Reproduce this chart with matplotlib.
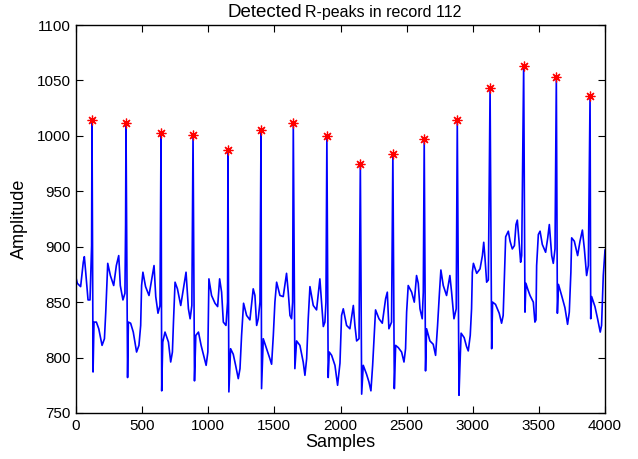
import matplotlib
matplotlib.use("Agg")
import matplotlib.pyplot as plt
import numpy as np

# ECG trace, record 112 (key points)
samples = [0, 10, 35, 55, 63, 72, 91, 106, 118, 121, 129, 136, 154, 172, 197, 215, 225, 235, 240, 260,
           285, 305, 323, 335, 355, 370, 375, 378, 390, 396, 413, 433, 458, 476, 489, 496, 506, 526, 552,
           577, 590, 603, 620, 635, 643, 648, 656, 673, 699, 716, 729, 737, 749, 767, 792, 820, 832, 850,
           863, 876, 885, 896, 906, 926, 946, 971, 984, 997, 1005, 1025, 1051, 1071, 1086, 1101, 1114,
           1134, 1146, 1149, 1156, 1169, 1189, 1207, 1227, 1240, 1252, 1267, 1290, 1315, 1340, 1353, 1366,
           1378, 1391, 1399, 1403, 1416, 1441, 1466, 1479, 1492, 1504, 1517, 1542, 1567, 1592, 1605, 1618,
           1630, 1638, 1643, 1655, 1668, 1693, 1718, 1731, 1744, 1756, 1769, 1794, 1819, 1844, 1857, 1870,
           1882, 1890, 1897, 1907, 1915, 1933, 1958, 1978, 1996, 2008, 2021, 2046, 2071, 2097, 2109, 2122,
           2140, 2150, 2160, 2172, 2197, 2215, 2230, 2243, 2255, 2265, 2291, 2316, 2341, 2354, 2366, 2386,
           2396, 2407, 2417, 2437, 2462, 2480, 2492, 2500, 2512, 2538, 2558, 2575, 2588, 2601, 2618, 2626,
           2633, 2643, 2651, 2676, 2701, 2719, 2734, 2747, 2759, 2777, 2802, 2827, 2840, 2858, 2875, 2883,
           2896, 2903, 2912, 2935, 2953, 2966, 2981, 2991, 2997, 3005, 3030, 3055, 3073, 3083, 3093, 3105,
           3118, 3131, 3143, 3150, 3172, 3200, 3218, 3230, 3239, 3249, 3269, 3282, 3299, 3315, 3327, 3337,
           3350, 3362, 3370, 3385, 3395, 3402, 3415, 3433, 3458, 3470, 3478, 3483, 3496, 3509, 3526, 3551,
           3567, 3579, 3597, 3609, 3622, 3632, 3640, 3648, 3672, 3697, 3717, 3730, 3742, 3748, 3768, 3793,
           3811, 3829, 3844, 3861, 3874, 3887, 3892, 3899, 3924, 3944, 3964, 3974, 3987, 4000]
amplitude = [872, 867, 864, 886, 891, 879, 852, 852, 901, 1014, 787, 832, 832, 826, 811, 817, 841, 871, 885, 874,
             865, 883, 892, 865, 852, 858, 920, 1012, 782, 832, 831, 823, 805, 811, 829, 865, 877, 864, 856,
             874, 883, 855, 840, 847, 1003, 770, 814, 823, 814, 796, 805, 832, 868, 862, 847, 868, 877, 844,
             835, 847, 1001, 779, 820, 823, 811, 799, 793, 805, 871, 856, 849, 846, 871, 859, 832,
             829, 850, 987, 769, 808, 803, 793, 781, 790, 820, 849, 838, 834, 862, 856, 829,
             835, 850, 1005, 772, 817, 808, 799, 794, 820, 850, 868, 856, 855, 876, 859, 838,
             835, 850, 1012, 790, 815, 811, 796, 784, 799, 835, 864, 847, 843, 871, 850, 828,
             832, 850, 1000, 782, 805, 802, 793, 775, 795, 838, 844, 829, 826, 847, 829, 815,
             817, 975, 767, 793, 785, 778, 770, 793, 820, 843, 835, 831, 853, 859, 826, 832,
             984, 772, 811, 809, 805, 796, 808, 841, 865, 859, 850, 874, 867, 844, 835, 859,
             997, 788, 826, 815, 812, 802, 829, 856, 879, 865, 856, 874, 859, 835, 844, 1014,
             766, 792, 822, 818, 810, 806, 820, 844, 877, 885, 876, 880, 892, 904, 889, 868,
             870, 1043, 808, 850, 848, 840, 831, 838, 871, 909, 914, 905, 898, 901, 920, 924,
             905, 886, 892, 1063, 841, 867, 862, 856, 850, 832, 834, 883, 911, 914, 902, 895,
             908, 920, 892, 885, 898, 1053, 840, 866, 856, 845, 830, 841, 877, 908, 905, 892,
             905, 915, 898, 874, 883, 1036, 835, 855, 846, 835, 823, 829, 874, 897]

# detected R-peaks
r_locs = [121, 378, 643, 885, 1149, 1399, 1643, 1897, 2150, 2396, 2633, 2883, 3131, 3385, 3632, 3887]
r_amps = [1014, 1012, 1003, 1001, 987, 1005, 1012, 1000, 975, 984, 997, 1014, 1043, 1063, 1053, 1036]

plt.rcParams['font.family'] = ['Liberation Sans', 'DejaVu Sans']

W, H = 638, 459
fig = plt.figure(figsize=(W / 100, H / 100), dpi=100)
ax = fig.add_axes([76 / W, 1 - 413 / H, (605 - 76) / W, (413 - 25) / H])

ax.plot(samples, amplitude, color=(0, 0, 1), lw=1.2)
ax.plot(r_locs, r_amps, linestyle='none', marker=(8, 2, 0), color=(1, 0, 0), ms=7, mew=0.9)

ax.set_xlim(0, 4000)
ax.set_ylim(750, 1100)
ax.set_xticks(np.arange(0, 4001, 500))
ax.set_yticks(np.arange(750, 1101, 50))
ax.tick_params(direction='in', top=True, right=True, length=5, width=0.8, labelsize=11, pad=4)
for sp in ax.spines.values():
    sp.set_linewidth(1.0)

ax.set_xlabel('Samples', fontsize=13, labelpad=1)
ax.set_ylabel('Amplitude', fontsize=13, labelpad=6)

fig.text(302 / W, 1 - 17 / H, 'Detected', ha='right', va='baseline', fontsize=13.5)
fig.text(305 / W, 1 - 17 / H, 'R-peaks in record 112', ha='left', va='baseline', fontsize=11.5)

fig.savefig('out.png', dpi=100)
